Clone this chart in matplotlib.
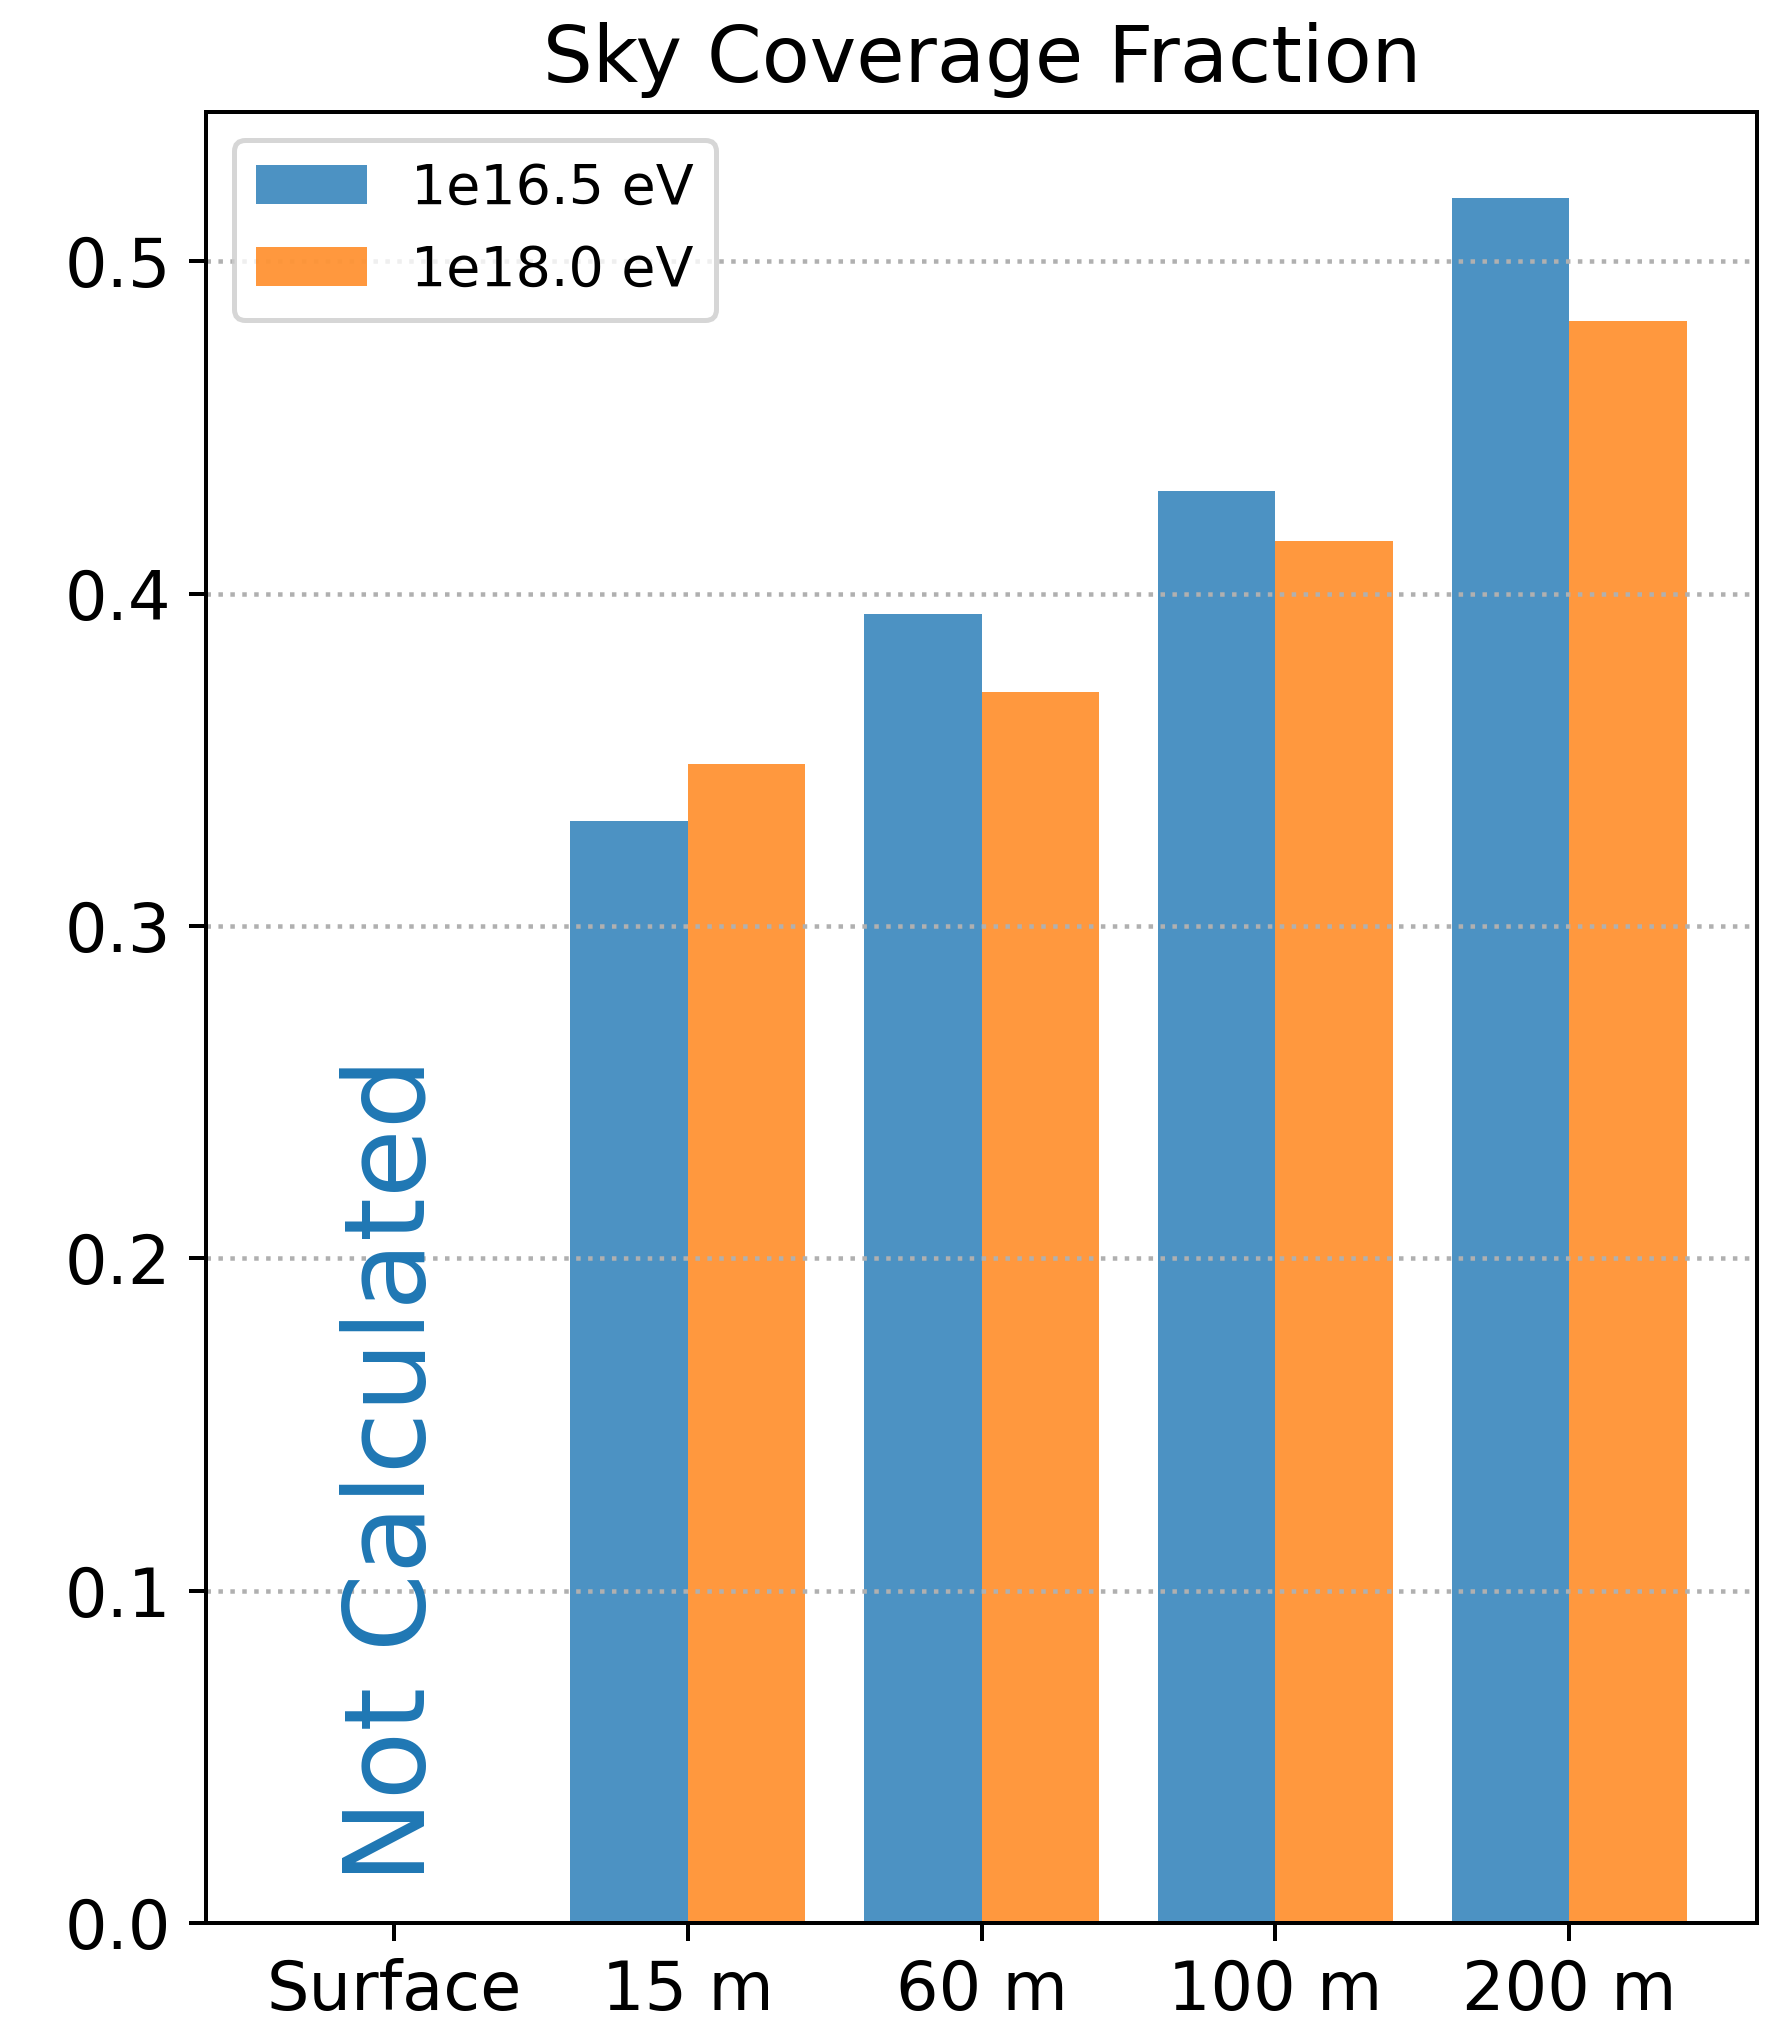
import numpy as np
import matplotlib
matplotlib.use("Agg")
import matplotlib.pyplot as plt

depths = ["Surface", "15 m", "60 m", "100 m", "200 m"]
energy_labels = ["1e16.5 eV", "1e18.0 eV"]
# surface depth was not simulated, so its bars are zero height
frac_165 = [0.0, 0.3317, 0.3938, 0.4310, 0.5190]
frac_180 = [0.0, 0.3487, 0.3705, 0.4159, 0.4820]

dpi = 360
fig = plt.figure(figsize=(1784 / dpi, 2023 / dpi), dpi=dpi)
ax = fig.add_axes([0.1155, 0.0494, 0.8695, 0.8952])

x = np.arange(len(depths))
width = 0.4
ax.bar(x - width / 2, frac_165, width, color="tab:blue", alpha=0.8, label=energy_labels[0])
ax.bar(x + width / 2, frac_180, width, color="tab:orange", alpha=0.8, label=energy_labels[1])

ax.text(0, 0.012, "Not Calculated", rotation=90, ha="center", va="bottom",
        fontsize=22.4, color="tab:blue")

ax.set_xticks(x)
ax.set_xticklabels(depths)
ax.tick_params(labelsize=13.4)
ax.yaxis.grid(True, linestyle=":", linewidth=0.9)
ax.set_title("Sky Coverage Fraction", fontsize=15.7)
ax.legend(loc="upper left", fontsize=11.1)

fig.savefig("out.png", dpi=dpi)
